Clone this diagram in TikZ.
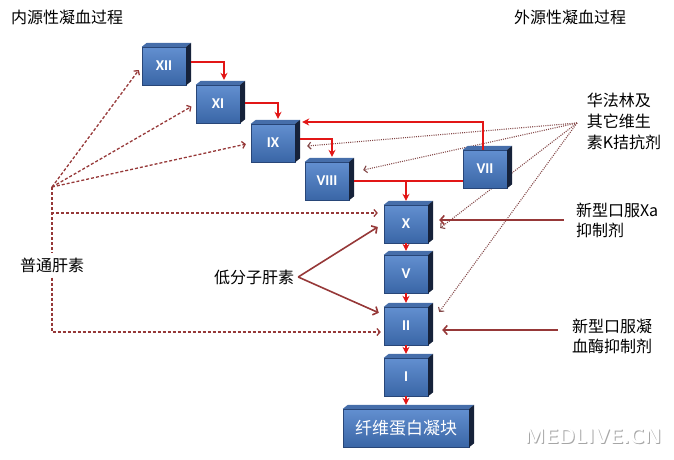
\documentclass[tikz,border=0pt]{standalone}
\usepackage{fontspec}
\setmainfont{Noto Sans CJK SC}
\newfontfamily\numfont{Carlito}
\usetikzlibrary{arrows.meta}
\pgfdeclarelayer{back}
\pgfsetlayers{back,main}
\definecolor{boxtop}{RGB}{98,143,208}
\definecolor{boxbot}{RGB}{58,102,166}
\definecolor{boxedge}{RGB}{40,70,120}
\definecolor{boxside}{RGB}{22,34,58}
\definecolor{boxlid}{RGB}{70,110,170}
\definecolor{arrowred}{RGB}{226,22,22}
\definecolor{inhibred}{RGB}{150,56,56}
\definecolor{dotred}{RGB}{130,70,70}
\begin{document}
\begin{tikzpicture}
[x=1pt,y=-1pt,
  factor/.style={shape=rectangle,top color=boxtop,bottom color=boxbot,draw=boxedge,
    line width=0.4pt,minimum width=44pt,minimum height=38pt,inner sep=0pt,
    text=white,font=\numfont\bfseries\fontsize{15}{15}\selectfont},
  lbl/.style={font=\fontsize{16}{21}\selectfont,inner sep=2pt},
  redarrow/.style={draw=arrowred,line width=1.8pt,-{Stealth[length=7pt,width=7pt]}},
  redline/.style={draw=arrowred,line width=1.8pt},
  inhib/.style={draw=inhibred,line width=1.6pt,-{Straight Barb[length=4pt,width=9pt]}},
  hepline/.style={draw=inhibred,line width=1.3pt,dash pattern=on 3pt off 2pt,
    -{Straight Barb[length=3pt,width=7pt]}},
  vkline/.style={draw=dotred,line width=1.1pt,dash pattern=on 1pt off 1.2pt,
    -{Straight Barb[length=3pt,width=7pt]}}]
\useasboundingbox (0,0) rectangle (674,459);
%%% clotting factors
% boxes
\node (xii) at (164,66) [factor] {XII};
\node (xi) at (218,104) [factor] {XI};
\node (ix) at (273,143) [factor] {IX};
\node (viii) at (327,181) [factor] {VIII};
\node (vii) at (485,169) [factor] {VII};
\node (x) at (406,224) [factor] {X};
\node (v) at (406,274) [factor] {V};
\node (ii) at (406,326) [factor] {II};
\node (i) at (406,377) [factor] {I};
\node (fibrin) at (406,428) [factor,minimum width=126pt,
  font=\fontsize{17}{17}\selectfont] {纤维蛋白凝块};
% 3d sides
\foreach \n in {xii,xi,ix,viii,vii,x,v,ii,i,fibrin} {
  \fill[boxlid] (\n.north west) -- ++(5pt,4pt) -- ([shift={(5pt,4pt)}]\n.north east)
    -- (\n.north east) -- cycle;
  \fill[boxside] (\n.north east) -- ++(5pt,4pt) -- ([shift={(5pt,4pt)}]\n.south east)
    -- (\n.south east) -- cycle;
}
%%% labels
\node (intr) at (67,17) [lbl] {内源性凝血过程};
\node (extr) at (570,17) [lbl] {外源性凝血过程};
\node (heparin) at (52,265) [lbl,inner sep=5pt] {普通肝素};
\node (lmwh) at (254,277) [lbl] {低分子肝素};
\node (vka) at (624,121) [lbl,align=left] {华法林及\\其它维生\\素K拮抗剂};
\node (xai) at (617,220) [lbl,align=left,font=\fontsize{16}{20}\selectfont] {新型口服Xa\\抑制剂};
\node (dti) at (612,336) [lbl,align=left,font=\fontsize{16}{20}\selectfont] {新型口服凝\\血酶抑制剂};
\node (mark) at (594,437) [text=gray!70,font=\sffamily\bfseries\fontsize{21}{21}\selectfont] {MEDLIVE.CN};
\node (markw) at (593,436) [text=white,font=\sffamily\bfseries\fontsize{21}{21}\selectfont] {MEDLIVE.CN};
\coordinate (hep) at (52,187);
\coordinate (vk) at (577,123);
%%% cascade
\draw[redarrow] ([shift={(5pt,4pt)}]xii.east) -| ([shift={(6pt,5pt)}]xi.north);
\draw[redarrow] ([shift={(5pt,1pt)}]xi.east) -| ([shift={(5pt,5pt)}]ix.north);
\draw[redarrow] ([shift={(5pt,4pt)}]ix.east) -| ([shift={(5pt,5pt)}]viii.north);
\draw[redarrow] ([xshift=-2pt]vii.north) |- ([shift={(7pt,21pt)}]ix.east);
\draw[redline] ([xshift=5pt]viii.east) -- (vii.west |- viii.east);
\draw[redarrow] (x.north |- viii.east) -- ([yshift=4pt]x.north);
\draw[redarrow] (x.south) -- ([yshift=4pt]v.north);
\draw[redarrow] (v.south) -- ([yshift=4pt]ii.north);
\draw[redarrow] (ii.south) -- ([yshift=4pt]i.north);
\draw[redarrow] (i.south) -- ([yshift=4pt]fibrin.north);
%%% drugs
\begin{pgfonlayer}{back}
\draw[hepline,shorten >=5pt] (hep) -- (xii.west);
\draw[hepline,shorten >=5pt] (hep) -- (xi.west);
\draw[hepline,shorten >=5pt] (hep) -- (ix.west);
\draw[hepline,-] (hep) -- (heparin.north);
\draw[hepline,shorten >=6pt] (hep) |- ([yshift=11pt]x.west);
\draw[hepline,shorten >=3pt] (heparin.south) |- ([yshift=-6pt]ii.west);
\draw[vkline] (vk) -- ([shift={(12pt,-3pt)}]ix.east);
\draw[vkline] (vk) -- ([shift={(14pt,11pt)}]viii.east);
\draw[vkline] (vk) -- ([shift={(12pt,-4pt)}]x.east);
\draw[vkline] (vk) -- ([shift={(11pt,14pt)}]ii.east);
\end{pgfonlayer}
\draw[inhib] ([xshift=2pt]lmwh.east) -- ([shift={(-6pt,-3pt)}]x.west);
\draw[inhib] ([xshift=2pt]lmwh.east) -- ([shift={(-5pt,-6pt)}]ii.north west);
\draw[inhib,shorten >=11pt] ([xshift=-10pt]xai.west) -- (x.east |- xai.west);
\draw[inhib] ([shift={(-12pt,6pt)}]dti.west) -- ([shift={(14pt,-4pt)}]ii.east);
\end{tikzpicture}
\end{document}
